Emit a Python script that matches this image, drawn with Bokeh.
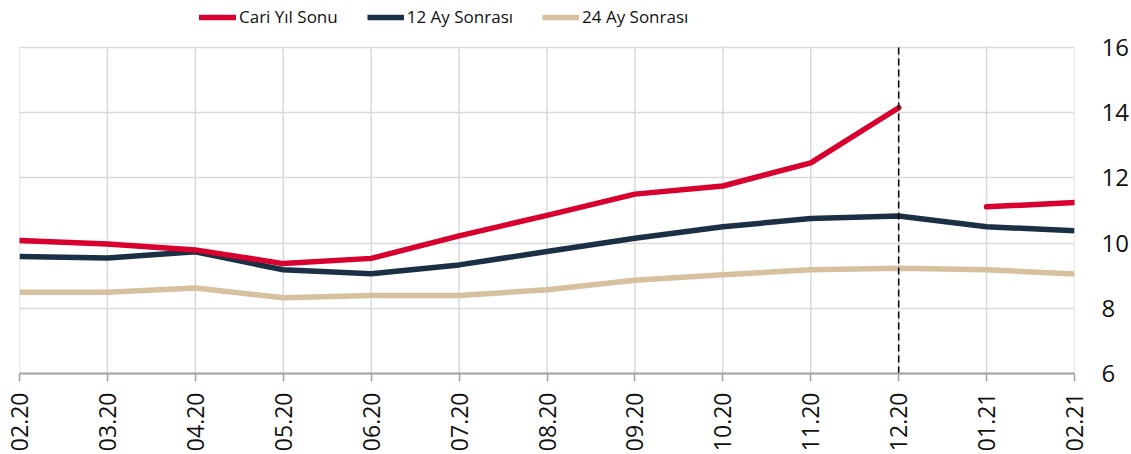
from bokeh.plotting import figure
from bokeh.models import Range1d, FixedTicker, Legend, LegendItem
from bokeh.embed import file_html
from bokeh.resources import INLINE
import math

months = ["02.20", "03.20", "04.20", "05.20", "06.20", "07.20", "08.20",
          "09.20", "10.20", "11.20", "12.20", "01.21", "02.21"]
cari_yil_sonu = [10.08, 9.97, 9.79, 9.37, 9.53, 10.22, 10.85, 11.50, 11.75, 12.46, 14.15, 11.11, 11.24]
ay12_sonrasi = [9.59, 9.54, 9.73, 9.18, 9.06, 9.33, 9.74, 10.15, 10.50, 10.75, 10.83, 10.50, 10.38]
ay24_sonrasi = [8.49, 8.49, 8.62, 8.32, 8.39, 8.39, 8.57, 8.86, 9.03, 9.18, 9.23, 9.18, 9.05]
y_ticks = [6, 8, 10, 12, 14, 16]
marker_month = "12.20"

RED = "#d7002f"
NAVY = "#1c3045"
TAN = "#d6c09e"
GRID = "#d9d9d9"
FONT = "Open Sans"

xs = list(range(len(months)))
y_lo, y_hi = min(y_ticks), max(y_ticks)
# extra headroom above the top tick holds the legend (47px above a 327px span)
y_top = y_hi + (y_hi - y_lo) * 47.0 / 327.0

p = figure(width=1131, height=454, output_backend="svg", toolbar_location=None,
           x_range=Range1d(0, len(months) - 1), y_range=Range1d(y_lo, y_top),
           y_axis_location="right",
           min_border_left=19, min_border_right=54, min_border_top=0, min_border_bottom=80)
p.outline_line_color = None
p.background_fill_color = "white"

# grids
p.xgrid.visible = False
p.ygrid.grid_line_color = GRID
p.ygrid.grid_line_width = 1.5
vgrid = p.segment(x0=xs, y0=[y_lo] * len(xs), x1=xs, y1=[y_hi] * len(xs),
                  line_color=GRID, line_width=1.5)

# x axis
p.xaxis.ticker = FixedTicker(ticks=xs)
p.xaxis.major_label_overrides = {i: m for i, m in enumerate(months)}
p.xaxis.major_label_orientation = math.pi / 2
p.xaxis.axis_line_color = "#a0a0a0"
p.xaxis.axis_line_width = 2
p.xaxis.major_tick_line_color = "#a0a0a0"
p.xaxis.major_tick_line_width = 1.5
p.xaxis.major_tick_out = 8
p.xaxis.major_tick_in = 0
p.xaxis.minor_tick_line_color = None
p.xaxis.major_label_standoff = 11
p.xaxis.major_label_text_font = FONT
p.xaxis.major_label_text_font_size = "23px"
p.xaxis.major_label_text_color = "#111111"

# y axis (right)
p.yaxis.ticker = FixedTicker(ticks=y_ticks)
p.yaxis.axis_line_color = None
p.yaxis.major_tick_line_color = None
p.yaxis.minor_tick_line_color = None
p.yaxis.major_tick_out = 0
p.yaxis.major_tick_in = 0
p.yaxis.major_label_standoff = 27
p.yaxis.major_label_text_font = FONT
p.yaxis.major_label_text_font_size = "24px"
p.yaxis.major_label_text_color = "#111111"

# Cari Yıl Sonu: separate segments per year
years = [m.split(".")[1] for m in months]
red_renderers = []
for yr in sorted(set(years), key=years.index):
    idx = [i for i, y in enumerate(years) if y == yr]
    r = p.line([xs[i] for i in idx], [cari_yil_sonu[i] for i in idx],
               line_color=RED, line_width=5.5, line_cap="round", line_join="round")
    red_renderers.append(r)

r12 = p.line(xs, ay12_sonrasi, line_color=NAVY, line_width=5.5, line_join="round")
r24 = p.line(xs, ay24_sonrasi, line_color=TAN, line_width=5.5, line_join="round")

mx = months.index(marker_month)
marker = p.segment(x0=[mx], y0=[y_lo], x1=[mx], y1=[y_hi],
                   line_color="black", line_width=1.5, line_dash="7 4")

p.renderers = [vgrid, r24, r12] + red_renderers + [marker]

legend = Legend(items=[LegendItem(label="Cari Yıl Sonu", renderers=[red_renderers[0]]),
                       LegendItem(label="12 Ay Sonrası", renderers=[r12]),
                       LegendItem(label="24 Ay Sonrası", renderers=[r24])],
                orientation="horizontal", location=(180, 345),
                padding=0, margin=0, spacing=29, glyph_width=37, glyph_height=18,
                label_height=18, label_standoff=3,
                label_text_font=FONT, label_text_font_size="17px",
                label_text_color="#111111",
                background_fill_alpha=0, border_line_color=None)
p.add_layout(legend, "center")

open("out.html", "w").write(file_html(p, INLINE))
